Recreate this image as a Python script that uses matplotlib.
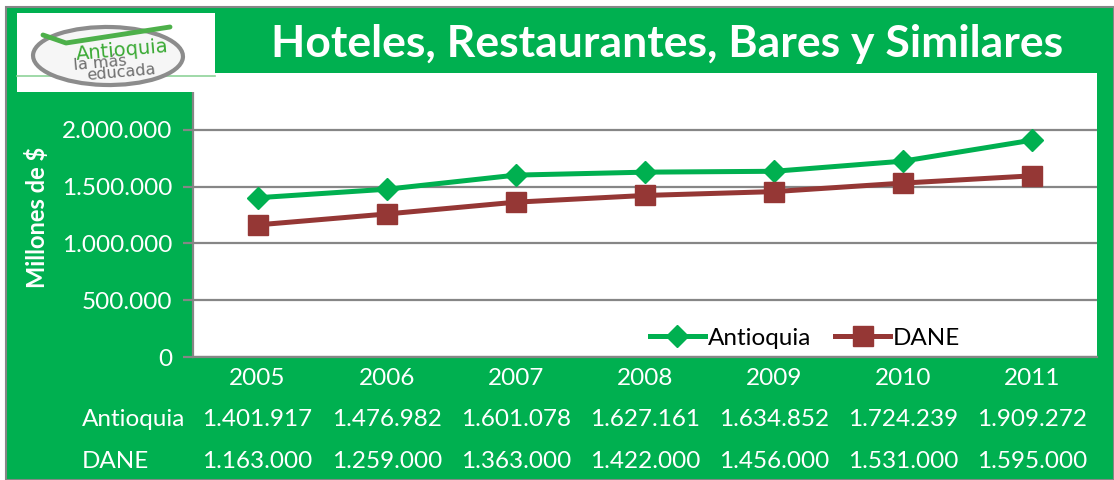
import matplotlib.pyplot as plt
import matplotlib.transforms as mtransforms
from matplotlib.patches import Rectangle, Ellipse

### Datos ###
anios = ["2005", "2006", "2007", "2008", "2009", "2010", "2011"]
antioquia = [1401917, 1476982, 1601078, 1627161, 1634852, 1724239, 1909272]
dane = [1163000, 1259000, 1363000, 1422000, 1456000, 1531000, 1595000]
y_ticks = [0, 500000, 1000000, 1500000, 2000000]

verde = "#00B050"
rojo = "#953735"
gris = "#868686"
fuente = "Lato"
tam = 17.5

W, H = 1114, 480


def px(x, y):
    # coordenadas en pixeles (origen arriba-izquierda) -> fraccion de figura
    return x / W, 1 - y / H


def miles(v):
    return f"{v:,}".replace(",", ".")


fig = plt.figure(figsize=(W / 100, H / 100), dpi=100)
fig.patch.set_facecolor("white")

# fondo verde con borde gris
fig.patches.append(Rectangle(px(6, 480), (W - 6) / W, (480 - 7) / H, transform=fig.transFigure,
                             facecolor=verde, edgecolor=gris, lw=1.5, zorder=-1))

### Area del grafico ###
ax = fig.add_axes([193 / W, (480 - 357) / H, 904 / W, (357 - 73) / H])
ax.set_zorder(1)
ax.set_facecolor("white")
x = list(range(len(anios)))
ax.plot(x, antioquia, color=verde, lw=3.6, marker="D", markersize=11, label="Antioquia", zorder=3)
ax.plot(x, dane, color=rojo, lw=3.6, marker="s", markersize=14, label="DANE", zorder=3)

ax.set_xlim(-0.5, len(anios) - 0.5)
ax.set_ylim(0, 2500000)
ax.set_yticks(y_ticks)
ax.set_yticklabels([miles(v) for v in y_ticks])
ax.set_xticks(x)
ax.set_xticklabels(anios)
ax.grid(axis="y", color=gris, lw=1.6)
ax.set_axisbelow(True)
for s in ["top", "right"]:
    ax.spines[s].set_visible(False)
ax.spines["left"].set_color(gris)
ax.spines["bottom"].set_color(gris)
ax.spines["left"].set_linewidth(1.6)
ax.spines["bottom"].set_linewidth(1.6)
ax.tick_params(axis="y", colors=gris, length=7, width=1.6, labelcolor="white", labelsize=tam, pad=8)
ax.tick_params(axis="x", length=0, labelcolor="white", labelsize=tam, pad=8)
for lab in ax.get_xticklabels() + ax.get_yticklabels():
    lab.set_fontfamily(fuente)

fig.text(*px(37, 217), "Millones de $", rotation=90, color="white", fontsize=17,
         fontweight="bold", family=fuente, ha="center", va="center")

leg = ax.legend(loc="center", bbox_to_anchor=((805 - 193) / 904, (357 - 338) / 284), ncol=2,
                frameon=False, handlelength=2.25, columnspacing=1.0,
                handletextpad=0.12, prop={"family": fuente, "size": tam})

### Tabla de datos ###
tr = mtransforms.blended_transform_factory(ax.transData, fig.transFigure)
for i in x:
    fig.text(i, 1 - 420 / H, miles(antioquia[i]), transform=tr, color="white", fontsize=tam,
             family=fuente, ha="center", va="center")
    fig.text(i, 1 - 461 / H, miles(dane[i]), transform=tr, color="white", fontsize=tam,
             family=fuente, ha="center", va="center")
fig.text(*px(82, 420), "Antioquia", color="white", fontsize=tam, family=fuente, ha="left", va="center")
fig.text(*px(82, 461), "DANE", color="white", fontsize=tam, family=fuente, ha="left", va="center")

### Titulo ###
fig.text(*px(667, 44), "Hoteles, Restaurantes, Bares y Similares", color="white", fontsize=32,
         fontweight="bold", family=fuente, ha="center", va="center")

### Logo ###
fig.patches.append(Rectangle(px(17, 92), 198 / W, 79 / H, transform=fig.transFigure,
                             facecolor="white", edgecolor="none", zorder=2))
fig.lines.append(plt.Line2D([17 / W, 215 / W], [1 - 76 / H, 1 - 76 / H], transform=fig.transFigure,
                            color="#8FD39A", lw=1.2, zorder=3))
fig.patches.append(Ellipse(px(108, 56), 150 / W, 58 / H, angle=-4, transform=fig.transFigure,
                           facecolor="#F6F6F6", edgecolor="#8C8C8C", lw=3, zorder=3))
fig.lines.append(plt.Line2D([43 / W, 66 / W, 170 / W], [1 - 35 / H, 1 - 43 / H, 1 - 27 / H],
                            transform=fig.transFigure, color="#4DB04A", lw=3.5, zorder=4,
                            solid_capstyle="round"))
fig.text(*px(122, 50), "Antioquia", color="#3BAA35", fontsize=14, family="DejaVu Sans",
         rotation=5, ha="center", va="center", zorder=5)
fig.text(*px(100, 63), "la más", color="#6E6E6E", fontsize=11.5, family="DejaVu Sans",
         rotation=5, ha="center", va="center", zorder=5)
fig.text(*px(121, 73), "educada", color="#6E6E6E", fontsize=11.5, family="DejaVu Sans",
         rotation=5, ha="center", va="center", zorder=5)

fig.savefig("out.png", dpi=100, facecolor=fig.get_facecolor())
